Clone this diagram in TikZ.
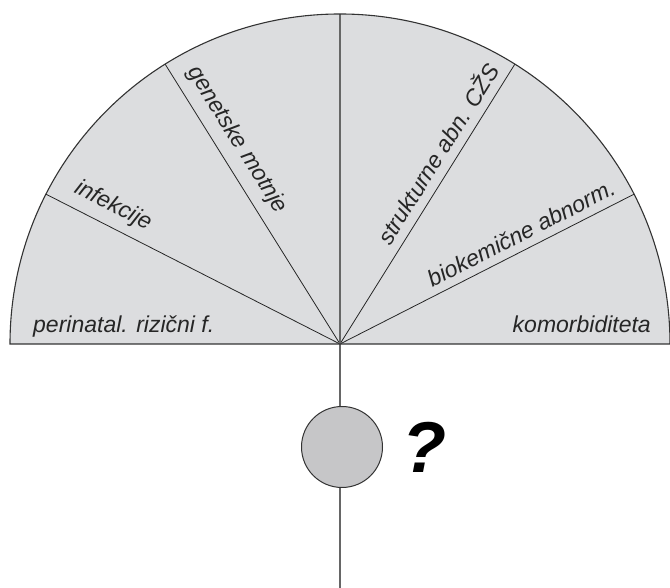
\documentclass[tikz,border=0pt]{standalone}
\usepackage{fontspec}
\setmainfont{Liberation Sans}
\usetikzlibrary{calc}
\definecolor{sectorgray}{HTML}{DCDDDF}
\definecolor{ballgray}{HTML}{C6C6C8}
\definecolor{rimcol}{HTML}{333333}
\definecolor{axiscol}{HTML}{666666}
\begin{document}
\begin{tikzpicture}[x=1pt,y=1pt,
  lbl/.style={font=\fontsize{23}{27}\selectfont\itshape, inner sep=0pt, text=black!85},
  divider/.style={draw=black!85, line width=0.8pt},
  rim/.style={draw=rimcol, line width=1.1pt},
  axisline/.style={draw=axiscol, line width=1.7pt},
  ball/.style={circle, draw=rimcol, line width=1pt, fill=ballgray, minimum size=81pt, inner sep=0pt}]
\useasboundingbox (0,0) rectangle (670,588);
\coordinate (C) at (340,244);
\coordinate (L) at (10,244);
\coordinate (top) at (340,574);
\coordinate (bot) at (340,0);
% half disc
\fill[sectorgray] (L) arc[start angle=180,end angle=0,radius=330] -- cycle;
% dividers
\foreach \a/\n in {27/d1,58/d2,122/d4,153/d5}{
  \coordinate (\n) at ($(C)+(\a:330)$);
  \draw[divider] (C) -- (\n);
}
% vertical axis
\draw[axisline] (top) -- (bot);
% rim
\draw[rim] (L) arc[start angle=180,end angle=0,radius=330] -- cycle;
% ball
\node[ball] (q) at (342,141) {};
\node[font=\fontsize{72}{78}\selectfont\bfseries\itshape, inner sep=0pt] (qm) at (424,141) {?};
% labels
\node[lbl, anchor=base west] (l1) at (33,255) {perinatal. rizični f.};
\node[lbl, anchor=base east] (l6) at (651,255) {komorbiditeta};
\node[lbl, rotate=-27] (l2) at (113,382) {infekcije};
\node[lbl, rotate=-58] (l3) at (237,448) {genetske motnje};
\node[lbl, rotate=58] (l4) at (437,435) {strukturne abn. CŽS};
\node[lbl, rotate=27] (l5) at (521,355) {biokemične abnorm.};
\end{tikzpicture}
\end{document}
